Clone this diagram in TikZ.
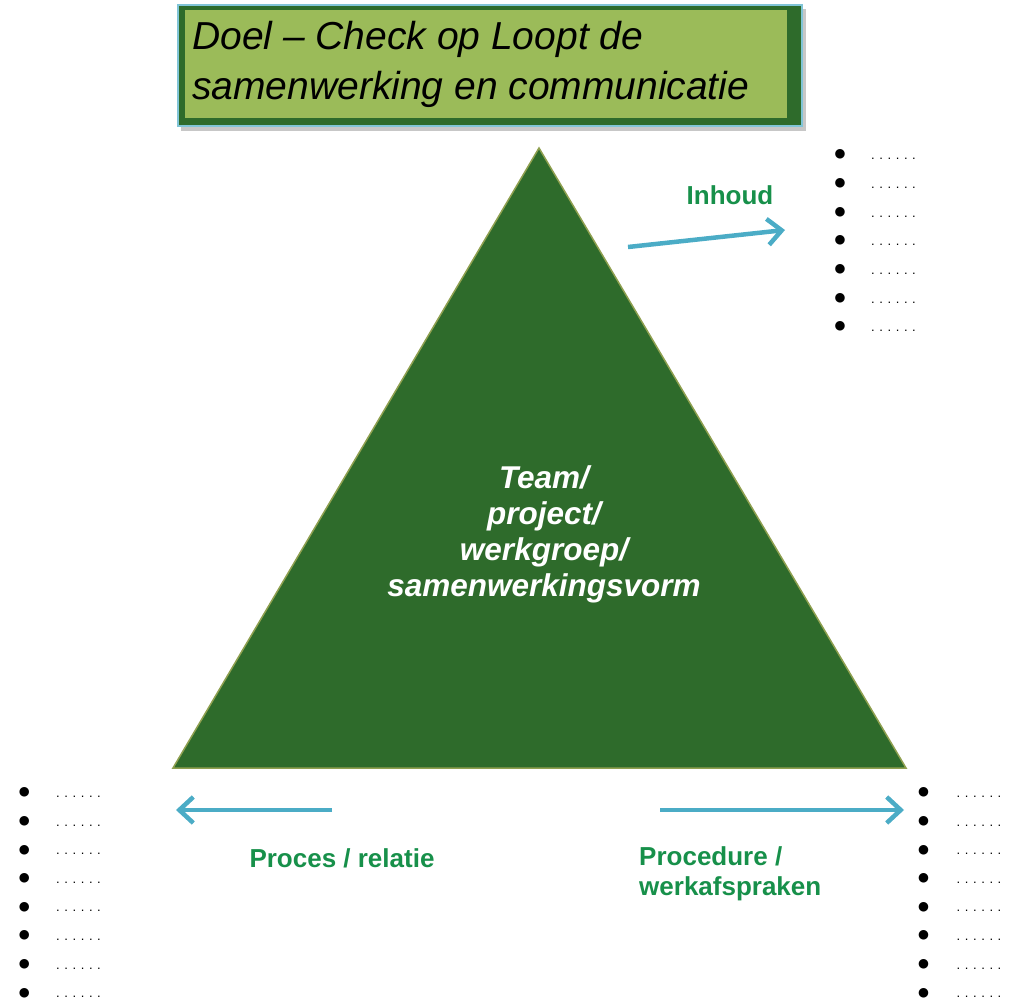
\documentclass[tikz,border=0pt]{standalone}
\usepackage{fontspec}
\setmainfont{Liberation Sans}
\newfontfamily\symfont{DejaVu Sans}
\usetikzlibrary{arrows.meta}
\definecolor{dkgreen}{HTML}{2E6B2B}
\definecolor{ltgreen}{HTML}{9BBB59}
\definecolor{txtgreen}{HTML}{17904A}
\definecolor{arrowblue}{HTML}{4BACC6}
\definecolor{triedge}{HTML}{8FA050}
\newcommand\dotrow{.\hspace{4.6pt}.\hspace{4.6pt}.\hspace{4.6pt}.\hspace{4.6pt}.\hspace{4.6pt}.}
\begin{document}
\begin{tikzpicture}[x=1pt,y=-1pt,
  bluearrow/.style={draw=arrowblue, line width=4.5pt, -{Straight Barb[length=14pt,width=26pt,line width=4.5pt]}},
  label/.style={text=txtgreen, font=\fontsize{26}{30}\selectfont\bfseries, inner sep=0pt},
  bulletsty/.style={font=\symfont\fontsize{12.5}{12.5}\selectfont, inner sep=0pt},
  dotsty/.style={font=\fontsize{13}{13}\selectfont, inner sep=0pt}]
\useasboundingbox (0,0) rectangle (1013,1001);
% title box
\fill[black!22] (181,9) rectangle (806,131);
\fill[dkgreen] (178,5) rectangle (802,126);
\fill[ltgreen] (185,10) rectangle (787,118);
\draw[arrowblue!70, line width=1.2pt] (178,5) rectangle (802,126);
\node[anchor=base west, align=left, inner sep=0pt, font=\fontsize{39}{50}\selectfont\itshape] (title) at (192,99)
  {Doel -- Check op Loopt de\\samenwerking en communicatie};
% triangle
\coordinate (apex) at (539,148);
\coordinate (bl) at (173,768);
\coordinate (br) at (906,768);
\filldraw[fill=dkgreen, draw=triedge, line width=1.5pt] (apex) -- (br) -- (bl) -- cycle;
\node[align=center, inner sep=0pt, text=white, font=\fontsize{31.5}{36}\selectfont\bfseries\itshape] (center) at (544,534)
  {Team/\\project/\\werkgroep/\\samenwerkingsvorm};
% arrows
\coordinate (a1s) at (628,247); \coordinate (a1e) at (785,230);
\coordinate (a2s) at (332,810); \coordinate (a2e) at (176,810);
\coordinate (a3s) at (660,810); \coordinate (a3e) at (904,810);
\draw[bluearrow] (a1s) -- (a1e);
\draw[bluearrow] (a2s) -- (a2e);
\draw[bluearrow] (a3s) -- (a3e);
% labels
\node[label] (inhoud) at (730,195) {Inhoud};
\node[label] (proces) at (342,858) {Proces / relatie};
\node[label, anchor=west, align=left] (procedure) at (639,874) {Procedure /\\werkafspraken};
% bullet lists
\foreach \i in {0,...,6} {
  \node[bulletsty] (tb\i) at (840,154.5+28.7*\i) {●};
  \node[dotsty] (td\i) at (893.5,159+28.7*\i) {\dotrow};
}
\foreach \i in {0,...,7} {
  \node[bulletsty] (lb\i) at (24.3,792.7+28.6*\i) {●};
  \node[dotsty] (ld\i) at (78.5,796.7+28.6*\i) {\dotrow};
  \node[bulletsty] (rb\i) at (923.5,792.7+28.6*\i) {●};
  \node[dotsty] (rd\i) at (979,796.7+28.6*\i) {\dotrow};
}
\end{tikzpicture}
\end{document}
